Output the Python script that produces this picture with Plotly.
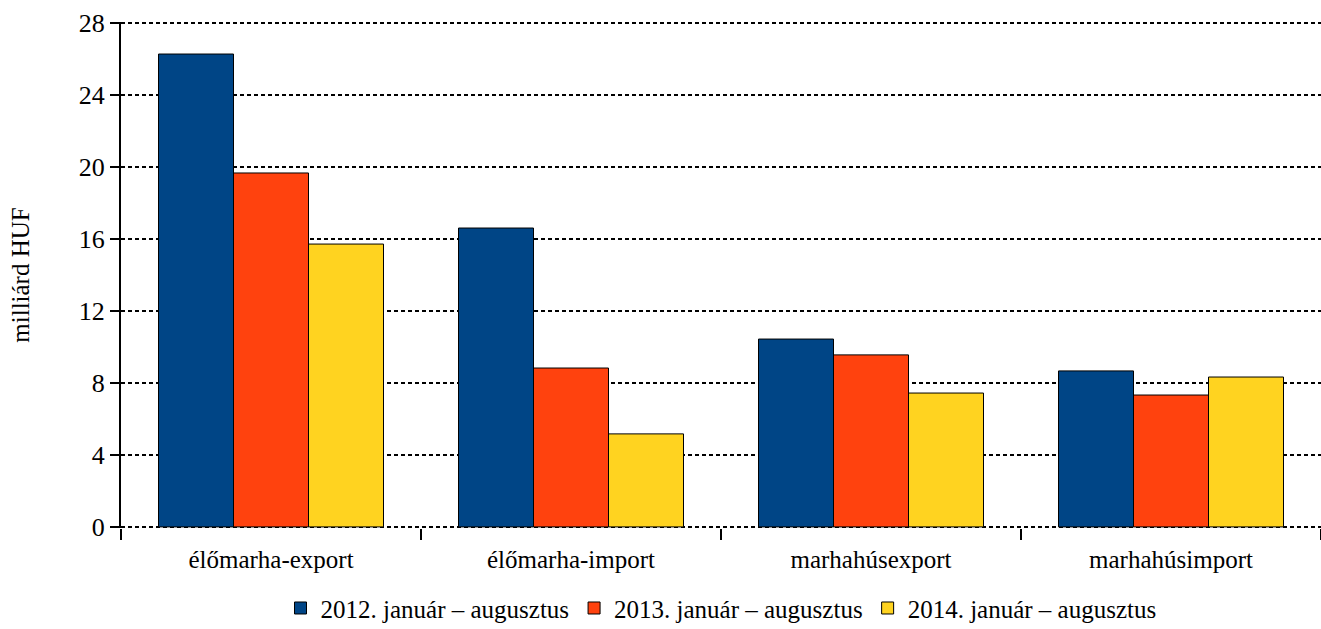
import plotly.graph_objects as go

categories = ["élőmarha-export", "élőmarha-import", "marhahúsexport", "marhahúsimport"]
series_names = ["2012. január – augusztus", "2013. január – augusztus", "2014. január – augusztus"]
values_2012 = [26.28, 16.61, 10.44, 8.67]
values_2013 = [19.67, 8.83, 9.56, 7.33]
values_2014 = [15.72, 5.17, 7.44, 8.33]
colors = ["#004586", "#FF420E", "#FFD320"]
y_ticks = [0, 4, 8, 12, 16, 20, 24, 28]

font_family = "Liberation Serif"

fig = go.Figure()
for name, vals, col in zip(series_names, [values_2012, values_2013, values_2014], colors):
    fig.add_trace(go.Bar(
        x=categories, y=vals, name=name,
        marker=dict(color=col, line=dict(color="#000000", width=1)),
    ))

fig.update_layout(
    barmode="group",
    bargap=0.25,
    bargroupgap=0,
    width=1321, height=629,
    margin=dict(l=121, r=0, t=22, b=101),
    plot_bgcolor="white",
    paper_bgcolor="white",
    font=dict(family=font_family, size=26, color="#000000"),
    legend=dict(
        orientation="h", x=0.5, xanchor="center", xref="paper",
        yref="container", y=0.033, yanchor="middle",
        font=dict(family=font_family, size=25),
        traceorder="normal",
    ),
)

fig.update_yaxes(
    range=[-0.06, 28.06],
    tickvals=y_ticks,
    showgrid=True, gridcolor="#000000", gridwidth=1.5, griddash="4px,3px",
    showline=True, linecolor="#000000", linewidth=2,
    ticks="outside", ticklen=9, tickwidth=2, tickcolor="#000000",
    tickfont=dict(family=font_family, size=26),
    title=dict(text="milliárd HUF", font=dict(family=font_family, size=25), standoff=42),
    zeroline=False,
)
fig.update_xaxes(
    showgrid=False,
    showline=False,
    ticks="outside", tickson="boundaries", ticklen=11, tickwidth=2, tickcolor="#000000",
    tickfont=dict(family=font_family, size=25),
    ticklabelstandoff=14,
)

fig.write_html(
    "out.html",
    config={"displayModeBar": False},
    post_script="document.body.style.margin='0px';document.body.style.overflow='hidden';",
)
